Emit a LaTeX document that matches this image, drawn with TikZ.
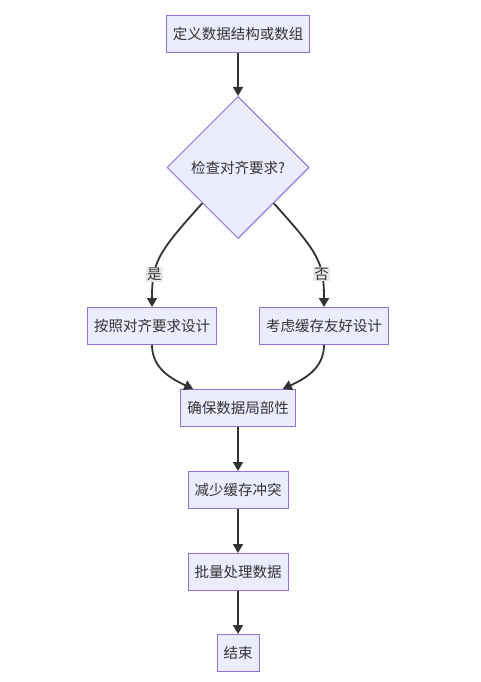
\documentclass[tikz,border=0pt]{standalone}
\usepackage{fontspec}
\setmainfont{Noto Sans CJK SC}
\usetikzlibrary{arrows.meta,positioning,shapes.geometric,calc}
\definecolor{nodefill}{HTML}{ECECFF}
\definecolor{nodeline}{HTML}{9370DB}
\definecolor{edgeline}{HTML}{333333}
\definecolor{lblfill}{HTML}{E8E8E8}

\begin{document}
\begin{tikzpicture}[
  x=1pt, y=1pt,
  font=\fontsize{14.5}{17}\selectfont,
  text=edgeline,
  box/.style={draw=nodeline, fill=nodefill, line width=1pt, minimum height=37pt, inner xsep=6.5pt, inner ysep=0pt},
  decision/.style={draw=nodeline, fill=nodefill, line width=1pt, diamond, aspect=1, minimum size=142pt, inner sep=0pt},
  arr/.style={-{Triangle[length=9pt,width=10pt]}, draw=edgeline, line width=1.8pt},
  lbl/.style={fill=lblfill, inner sep=1pt, text=edgeline},
]
\useasboundingbox (0,0) rectangle (480,-682);

% ================= main flow =================
\node[box] (def) at (238,-34) {定义数据结构或数组};
\node[decision, below=43pt of def] (chk) {检查对齐要求?};
\node[box, below=68pt of chk, xshift=-86pt] (yes) {按照对齐要求设计};
\node[box, below=68pt of chk, xshift=86pt] (no) {考虑缓存友好设计};
\node[box, anchor=north] (ens) at ($(yes.south -| chk.south)+(0,-44pt)$) {确保数据局部性};
\node[box, below=44pt of ens] (red) {减少缓存冲突};
\node[box, below=44pt of red] (batch) {批量处理数据};
\node[box, below=43pt of batch] (fin) {结束};

% ================= connectors =================
\draw[arr] (def) -- (chk);
\draw[arr] (chk.south west) .. controls +(-45,-50) and +(0,45) .. node[lbl, pos=0.7]{是} (yes.north);
\draw[arr] (chk.south east) .. controls +(45,-50) and +(0,45) .. node[lbl, pos=0.7]{否} (no.north);

% merge into locality
\draw[arr] (yes.south) to[out=-90,in=155] (ens.157);
\draw[arr] (no.south) to[out=-90,in=25] (ens.23);

\draw[arr] (ens) -- (red);
\draw[arr] (red) -- (batch);
\draw[arr] (batch) -- (fin);

\end{tikzpicture}
\end{document}
